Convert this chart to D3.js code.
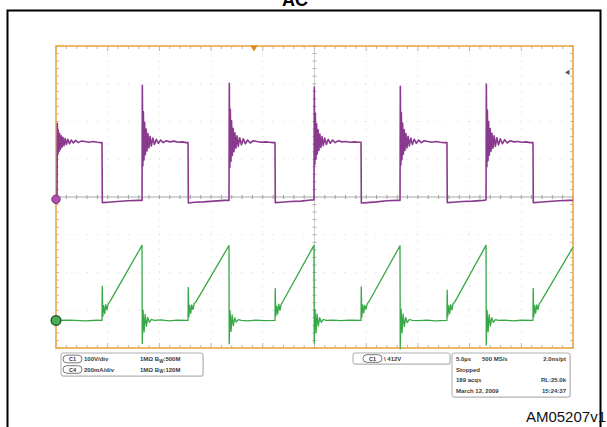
<!DOCTYPE html>
<html><head><meta charset="utf-8">
<script src="https://cdn.jsdelivr.net/npm/d3@7"></script>
<style>html,body{margin:0;padding:0;background:#fff}svg{display:block}</style>
</head><body>
<svg id="c" width="607" height="427"></svg>
<script>
// Scope capture: C1 drain voltage (100 V/div) and C4 current (200 mA/div), 5 µs/div
const timeDomain = [-25, 25];            // µs across 10 divisions
const divDomain = [-4, 4];               // vertical divisions
const c1VoltsPerDiv = 100, c4mAPerDiv = 200;
const c1Position = -0.06, c4Position = -3.27;   // channel offsets in div
const triggerTime = -5.85;               // µs, trigger position flag on the top edge
const triggerLevelDiv = 3.3;             // trigger level arrow on the right edge

// C1: edge times (µs)
const c1Rise = [-24.9, -16.68, -8.27, -0.05, 8.27, 16.59];
const c1Fall = [-20.55, -12.23, -3.82, 4.50, 12.81, 21.13];
// C1: ringing after each rising edge (µs after edge, volts per cycle)
const c1RingDt = [0, 0.03, 0.08, 0.13, 0.19, 0.25, 0.32, 0.40, 0.48, 0.57, 0.67, 0.78, 0.90, 1.04, 1.20, 1.38, 1.58, 1.80, 2.05, 2.35];
const c1Ring = [
  [-4, 201, 118, 182, 126, 174, 132, 168, 138, 164, 142, 161, 145, 159, 147, 157, 149, 156, 150, 154],
  [-3, 302, 88, 232, 104, 204, 118, 186, 128, 174, 136, 167, 141, 162, 145, 159, 148, 157, 150, 155],
  [-3, 307, 84, 238, 100, 208, 116, 188, 126, 176, 135, 168, 140, 163, 144, 160, 147, 157, 149, 155],
  [-2, 297, 92, 228, 106, 200, 120, 184, 130, 173, 137, 166, 142, 162, 145, 159, 148, 157, 150, 155],
  [-3, 299, 90, 230, 105, 202, 119, 185, 129, 174, 136, 167, 141, 162, 145, 159, 148, 157, 150, 155],
  [-2, 305, 86, 236, 102, 206, 117, 187, 127, 175, 135, 168, 140, 163, 144, 160, 147, 158, 149, 155]
];
// C1: flat top before the falling edge
const c1PlateauDt = [2.7, 3.1, 3.5, 3.9, 4.25];
const c1Plateau = [
  [153, 151, 153, 151, 150], [152, 154, 151, 152, 150], [153, 151, 152, 151, 150],
  [152, 153, 151, 152, 151], [153, 151, 153, 151, 150], [152, 153, 151, 152, 150]
];
// C1: low level after each falling edge
const c1LowDt = [0.03, 0.6, 1.5, 2.5, 3.5];
const c1Low = [
  [-9, -8, -6, -4, -3], [-10, -8, -7, -5, -3], [-9, -8, -6, -5, -2],
  [-10, -9, -7, -4, -3], [-9, -8, -6, -5, -3], [-9, -8, -6, -4, -3]
];

// C4: turn-on ringing at each C1 falling edge (µs after edge, mA)
const c4Lead = [[-25, 0], [-23.6, 2], [-22.2, -2], [-21.0, 1]];
const c4OnDt = [0, 0.02, 0.08, 0.16, 0.26, 0.36, 0.48, 0.60, 0.75];
const c4On = [
  [0, 182, 22, 78, 36, 84, 56, 88, 98],
  [0, 175, 20, 80, 38, 82, 58, 90, 97],
  [0, 168, 24, 76, 34, 86, 54, 86, 99],
  [0, 178, 18, 82, 40, 80, 60, 88, 98],
  [0, 160, 22, 78, 36, 84, 56, 90, 97],
  [0, 170, 20, 80, 38, 82, 58, 88, 98]
];
const c4Peak = [398, 397, 398, 396, 398];   // mA at each turn-off
const c4EndValue = 388;                     // ramp value at the right edge
// C4: turn-off ringing at each C1 rising edge
const c4OffDt = [0.02, 0.10, 0.20, 0.30, 0.42, 0.55, 0.70, 0.90, 1.20];
const c4Off = [
  [-122, 55, -62, 32, -30, 16, -10, 5, 0],
  [-124, 50, -58, 30, -28, 14, -9, 4, 0],
  [-120, 58, -64, 34, -30, 15, -10, 5, 0],
  [-150, 60, -66, 35, -32, 16, -11, 5, 0],
  [-130, 54, -60, 31, -29, 15, -10, 4, 0]
];
const c4BaseDt = [1.8, 2.6, 3.4];
const c4Base = [[3, -2, 2], [-2, 2, -1], [2, -1, 2], [-1, 2, -2], [2, -2, 1]];

// Readout text
const chanRows = [
  { ch: "C1", scale: "100V/div", imp: "1MΩ", bw: "500M" },
  { ch: "C4", scale: "200mA/div", imp: "1MΩ", bw: "120M" }
];
const trigText = { ch: "C1", slope: "\\", level: "412V" };
const acqRows = [
  ["5.0µs", "500 MS/s", "2.0ns/pt"],
  ["Stopped", "", ""],
  ["189 acqs", "", "RL:25.0k"],
  ["March 12, 2009", "", "15:24:37"]
];
const titleText = "AC";
const codeText = "AM05207v1";

const svg = d3.select("#c");
const font = "'Liberation Sans', Arial, sans-serif";

const x = d3.scaleLinear().domain(timeDomain).range([56, 573]);
const y = d3.scaleLinear().domain(divDomain).range([348, 46]);
const yC1 = v => y(v / c1VoltsPerDiv + c1Position);
const yC4 = v => y(v / c4mAPerDiv + c4Position);

// Outer frame and title
svg.append("rect").attr("x", 7.5).attr("y", 10.5).attr("width", 593).attr("height", 440)
  .attr("fill", "none").attr("stroke", "#000").attr("stroke-width", 2);
svg.append("text").attr("x", 295).attr("y", 6).attr("text-anchor", "middle")
  .attr("font-family", font).attr("font-weight", "bold").attr("font-size", 18).text(titleText);
svg.append("text").attr("x", 606).attr("y", 422).attr("text-anchor", "end")
  .attr("font-family", font).attr("font-size", 15).attr("fill", "#111").text(codeText);

// Graticule: faint dotted division lines
const g = svg.append("g");
const xDivs = d3.range(-4, 5).map(d => d * 5);
const yDivs = d3.range(-3, 4);
g.selectAll(".vg").data(xDivs.filter(d => d !== 0)).join("line")
  .attr("x1", d => x(d)).attr("x2", d => x(d)).attr("y1", y(4)).attr("y2", y(-4))
  .attr("stroke", "#d8d8d8").attr("stroke-dasharray", "1,6.5").attr("stroke-width", 1);
g.selectAll(".hg").data(yDivs.filter(d => d !== 0)).join("line")
  .attr("y1", d => y(d)).attr("y2", d => y(d)).attr("x1", x(-25)).attr("x2", x(25))
  .attr("stroke", "#d8d8d8").attr("stroke-dasharray", "1,9.3").attr("stroke-width", 1);

// Centre crosshair with minor ticks
g.append("line").attr("x1", x(-25)).attr("x2", x(25)).attr("y1", y(0)).attr("y2", y(0))
  .attr("stroke", "#a8a8a8").attr("stroke-width", 1);
g.append("line").attr("x1", x(0)).attr("x2", x(0)).attr("y1", y(4)).attr("y2", y(-4))
  .attr("stroke", "#d0d0d0").attr("stroke-width", 1);
const minorX = d3.range(-25, 25.01, 1);
const minorY = d3.range(-4, 4.01, 0.2);
g.selectAll(".cxt").data(minorX).join("line")
  .attr("x1", d => x(d)).attr("x2", d => x(d)).attr("y1", y(0) - 2).attr("y2", y(0) + 2)
  .attr("stroke", "#a0a0a0");
g.selectAll(".cyt").data(minorY).join("line")
  .attr("y1", d => y(d)).attr("y2", d => y(d)).attr("x1", x(0) - 2).attr("x2", x(0) + 2)
  .attr("stroke", "#b0b0b0");
// Edge ticks
g.selectAll(".tt").data(minorX).join("line")
  .attr("x1", d => x(d)).attr("x2", d => x(d)).attr("y1", y(4)).attr("y2", d => y(4) + (d % 5 === 0 ? 5 : 3))
  .attr("stroke", "#b8b8b8");
g.selectAll(".bt").data(minorX).join("line")
  .attr("x1", d => x(d)).attr("x2", d => x(d)).attr("y1", y(-4)).attr("y2", d => y(-4) - (d % 5 === 0 ? 5 : 3))
  .attr("stroke", "#b8b8b8");
g.selectAll(".lt").data(minorY).join("line")
  .attr("y1", d => y(d)).attr("y2", d => y(d)).attr("x1", x(-25)).attr("x2", x(-25) + 3)
  .attr("stroke", "#b8b8b8");
g.selectAll(".rt").data(minorY).join("line")
  .attr("y1", d => y(d)).attr("y2", d => y(d)).attr("x1", x(25)).attr("x2", x(25) - 3)
  .attr("stroke", "#b8b8b8");
g.append("rect").attr("x", x(-25)).attr("y", y(4)).attr("width", x(25) - x(-25)).attr("height", y(-4) - y(4))
  .attr("fill", "none").attr("stroke", "#eba543").attr("stroke-width", 1.6);

// Build C1 trace
const c1Pts = [[timeDomain[0], c1Ring[0][0]]];
c1Rise.forEach((r, i) => {
  c1RingDt.forEach((dt, k) => { if (r + dt >= timeDomain[0]) c1Pts.push([r + dt, c1Ring[i][k]]); });
  c1PlateauDt.forEach((dt, k) => c1Pts.push([r + dt, c1Plateau[i][k]]));
  const f = c1Fall[i];
  c1Pts.push([f, c1Plateau[i][c1Plateau[i].length - 1]]);
  c1LowDt.forEach((dt, k) => { if (f + dt <= timeDomain[1]) c1Pts.push([f + dt, c1Low[i][k]]); });
});
c1Pts.push([timeDomain[1], -3]);

// Build C4 trace
const c4Pts = c4Lead.slice();
c1Fall.forEach((f, i) => {
  c4OnDt.forEach((dt, k) => c4Pts.push([f + dt, c4On[i][k]]));
  if (i < c1Rise.length - 1) {
    const r = c1Rise[i + 1];
    c4Pts.push([r, c4Peak[i]]);
    c4OffDt.forEach((dt, k) => c4Pts.push([r + dt, c4Off[i][k]]));
    c4BaseDt.forEach((dt, k) => c4Pts.push([r + dt, c4Base[i][k]]));
  } else {
    c4Pts.push([timeDomain[1], c4EndValue]);
  }
});

const lineC1 = d3.line().x(d => x(d[0])).y(d => yC1(d[1]));
const lineC4 = d3.line().x(d => x(d[0])).y(d => yC4(d[1]));

svg.append("path").attr("d", lineC4(c4Pts)).attr("fill", "none")
  .attr("stroke", "#36a845").attr("stroke-width", 1.3).attr("stroke-linejoin", "round");
svg.append("path").attr("d", lineC1(c1Pts)).attr("fill", "none")
  .attr("stroke", "#8a3a8e").attr("stroke-width", 1.6).attr("stroke-linejoin", "round");

// Ground markers
svg.append("circle").attr("cx", x(-25)).attr("cy", yC1(0)).attr("r", 4.2)
  .attr("fill", "#b04fae").attr("stroke", "#7a2f7a").attr("stroke-width", 1);
svg.append("circle").attr("cx", x(-25)).attr("cy", yC4(0)).attr("r", 4.8)
  .attr("fill", "#4cae52").attr("stroke", "#1f5e26").attr("stroke-width", 1.5);

// Trigger position and level indicators
svg.append("path").attr("d", d3.symbol(d3.symbolTriangle, 22)())
  .attr("transform", `translate(${x(triggerTime)},${y(4) + 1.5}) rotate(180)`).attr("fill", "#d98a20");
svg.append("path").attr("d", d3.symbol(d3.symbolTriangle, 12)())
  .attr("transform", `translate(${x(25) - 5},${y(triggerLevelDiv)}) rotate(-90)`).attr("fill", "#555");

// Readout boxes
function box(x0, y0, w, h) {
  svg.append("rect").attr("x", x0 + 1).attr("y", y0 + 1).attr("width", w).attr("height", h).attr("rx", 2)
    .attr("fill", "#e4e4e4");
  svg.append("rect").attr("x", x0).attr("y", y0).attr("width", w).attr("height", h).attr("rx", 2)
    .attr("fill", "#fff").attr("stroke", "#9a9a9a").attr("stroke-width", 0.8);
}
function pill(cx, cy, label) {
  svg.append("rect").attr("x", cx - 9.5).attr("y", cy - 3.8).attr("width", 19).attr("height", 7.6).attr("rx", 3.8)
    .attr("fill", "#fff").attr("stroke", "#555").attr("stroke-width", 0.8);
  svg.append("text").attr("x", cx).attr("y", cy + 2).attr("text-anchor", "middle")
    .attr("font-family", font).attr("font-size", 5.5).attr("font-weight", "bold").attr("fill", "#333").text(label);
}
const txt = (xx, yy, s, anchor) => svg.append("text").attr("x", xx).attr("y", yy)
  .attr("text-anchor", anchor || "start").attr("font-family", font).attr("font-size", 6)
  .attr("font-weight", "bold").attr("fill", "#3a3a3a").text(s);

box(61, 353, 142, 23);
chanRows.forEach((row, i) => {
  const cy = 359 + i * 10.5;
  pill(72.5, cy, row.ch);
  txt(84, cy + 2.2, row.scale);
  const t = txt(140, cy + 2.2, row.imp + " ");
  t.append("tspan").text("B");
  t.append("tspan").attr("font-size", 4.5).attr("dy", 1.5).text("W");
  t.append("tspan").attr("dy", -1.5).text(":" + row.bw);
});

box(353, 353, 97, 11);
pill(372.5, 358.5, trigText.ch);
txt(384, 360.7, trigText.slope + " " + trigText.level);

box(452, 353, 118, 44);
acqRows.forEach((row, i) => {
  const yy = 361 + i * 10.6;
  txt(456, yy, row[0]);
  if (row[1]) txt(482, yy, row[1]);
  if (row[2]) txt(566, yy, row[2], "end");
});
</script>
</body></html>
